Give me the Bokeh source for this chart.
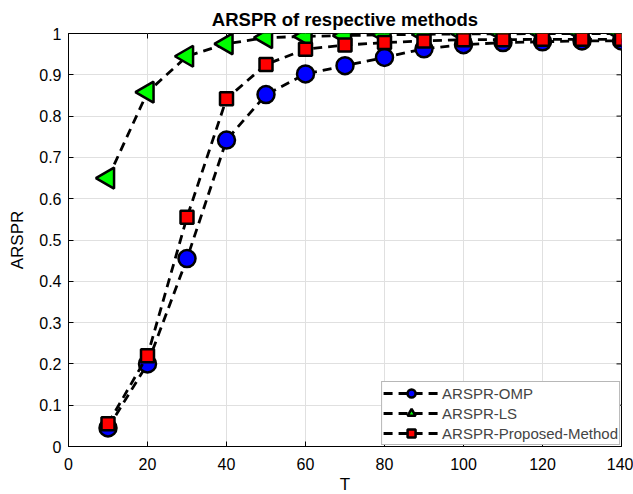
import math
from bokeh.plotting import figure
from bokeh.models import Range1d, FixedTicker, Legend, LegendItem
from bokeh.embed import file_html
from bokeh.resources import INLINE

T = [10, 20, 30, 40, 50, 60, 70, 80, 90, 100, 110, 120, 130, 140]
omp = [0.045, 0.200, 0.455, 0.742, 0.852, 0.902, 0.922, 0.942, 0.963, 0.973, 0.978, 0.980, 0.982, 0.982]
ls = [0.650, 0.858, 0.945, 0.975, 0.990, 0.993, 0.995, 0.997, 0.998, 0.999, 0.999, 1.000, 1.000, 1.000]
proposed = [0.055, 0.220, 0.555, 0.842, 0.925, 0.962, 0.972, 0.978, 0.982, 0.985, 0.985, 0.986, 0.986, 0.986]
x_ticks = [0, 20, 40, 60, 80, 100, 120, 140]
y_ticks = [0, 0.1, 0.2, 0.3, 0.4, 0.5, 0.6, 0.7, 0.8, 0.9, 1]
y_labels = {0: "0", 0.1: "0.1", 0.2: "0.2", 0.3: "0.3", 0.4: "0.4", 0.5: "0.5",
            0.6: "0.6", 0.7: "0.7", 0.8: "0.8", 0.9: "0.9", 1: "1"}
x_min, x_max = 0, 140
y_min, y_max = 0, 1

FONT = "Liberation Sans"

p = figure(frame_width=553, frame_height=413, output_backend="svg", toolbar_location=None,
           x_range=Range1d(x_min, x_max), y_range=Range1d(y_min, y_max),
           title="ARSPR of respective methods",
           min_border_left=68, min_border_right=12, min_border_top=33, min_border_bottom=48)
p.title.align = "center"
p.title.text_font = FONT
p.title.text_font_size = "18.5px"
p.title.text_font_style = "bold"
p.title.text_color = "black"
p.title.standoff = 8

p.outline_line_color = "black"
p.outline_line_width = 1
p.background_fill_color = "white"
p.border_fill_color = "white"

for ax in (p.xaxis[0], p.yaxis[0]):
    ax.major_tick_in = 5
    ax.major_tick_out = 0
    ax.minor_tick_line_color = None
    ax.axis_line_color = "black"
    ax.major_tick_line_color = "black"
    ax.major_label_text_font = FONT
    ax.major_label_text_font_size = "16px"
    ax.major_label_text_color = "black"
    ax.axis_label_text_font = FONT
    ax.axis_label_text_font_size = "17px"
    ax.axis_label_text_font_style = "normal"
    ax.axis_label_text_color = "black"

p.xaxis.ticker = FixedTicker(ticks=x_ticks)
p.yaxis.ticker = FixedTicker(ticks=y_ticks)
p.yaxis.major_label_overrides = y_labels
p.xaxis.axis_label = "T"
p.yaxis.axis_label = "ARSPR"
p.xaxis.major_label_standoff = 11
p.yaxis.major_label_standoff = 7
p.xaxis.axis_label_standoff = 2
p.yaxis.axis_label_standoff = 9

p.xgrid.ticker = FixedTicker(ticks=x_ticks)
p.ygrid.ticker = FixedTicker(ticks=y_ticks)
p.grid.grid_line_color = "#e0e0e0"
p.grid.grid_line_width = 1

# MATLAB-style inward ticks on the top and right edges of the box
p.ray(x=x_ticks, y=[y_max] * len(x_ticks), length=5, length_units="screen",
      angle=-math.pi / 2, line_color="black", line_width=1)
p.ray(x=[x_max] * len(y_ticks), y=y_ticks, length=5, length_units="screen",
      angle=math.pi, line_color="black", line_width=1)

DASH = "9 6"
LW = 2.8

l1 = p.line(T, omp, line_color="black", line_width=LW, line_dash=DASH)
s1 = p.scatter(T, omp, marker="circle", size=17, fill_color="#0000ff", line_color="black", line_width=2.5)
l2 = p.line(T, ls, line_color="black", line_width=LW, line_dash=DASH)
s2 = p.scatter(T, ls, marker="triangle", angle=math.pi / 2, size=21, fill_color="#00ff00",
               line_color="black", line_width=2.5)
l3 = p.line(T, proposed, line_color="black", line_width=LW, line_dash=DASH)
s3 = p.scatter(T, proposed, marker="square", size=13, fill_color="#ff0000", line_color="black", line_width=2.5)

legend = Legend(items=[
    LegendItem(label="ARSPR-OMP", renderers=[l1, s1]),
    LegendItem(label="ARSPR-LS", renderers=[l2, s2]),
    LegendItem(label="ARSPR-Proposed-Method", renderers=[l3, s3]),
], location="bottom_right")
legend.margin = 1
legend.padding = 1
legend.spacing = 0
legend.glyph_width = 56
legend.glyph_height = 20
legend.label_standoff = 3
legend.label_text_font = FONT
legend.label_text_font_size = "15px"
legend.label_height = 20
legend.border_line_color = "#707070"
legend.border_line_width = 1.2
legend.background_fill_color = "white"
legend.background_fill_alpha = 1
p.add_layout(legend, "center")

open("out.html", "w").write(file_html(p, INLINE))
